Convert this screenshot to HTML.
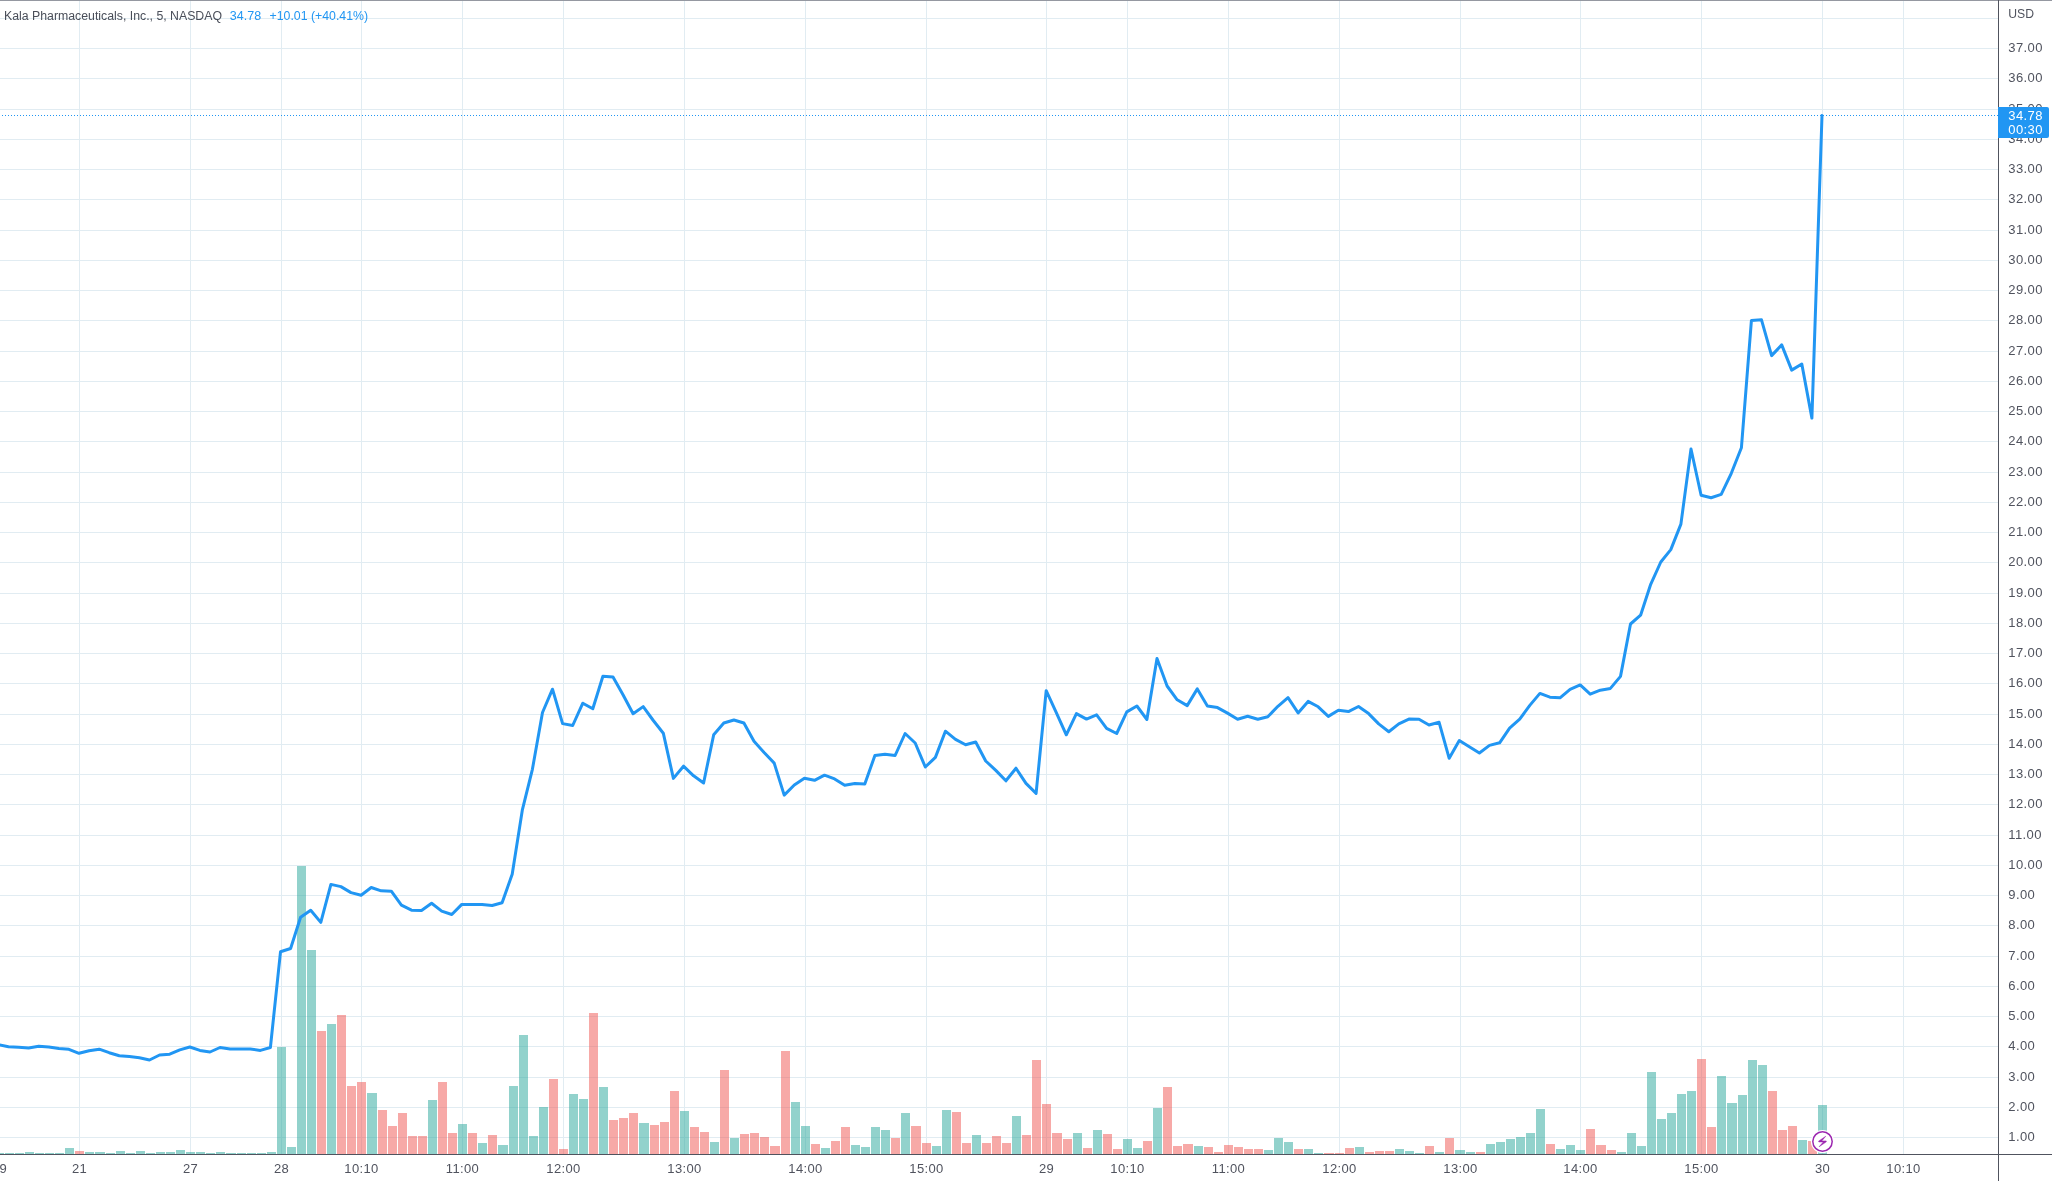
<!DOCTYPE html>
<html><head><meta charset="utf-8"><title>Chart</title>
<style>
html,body{margin:0;padding:0;background:#fff;width:2052px;height:1181px;overflow:hidden}
svg{display:block;font-family:"Liberation Sans", sans-serif;will-change:transform}
</style></head><body>
<svg width="2052" height="1181" viewBox="0 0 2052 1181">
<rect x="0" y="0" width="2052" height="1181" fill="#ffffff"/>
<g shape-rendering="crispEdges"><rect x="0" y="1137" width="1998" height="1" fill="#e1ecf2"/><rect x="0" y="1107" width="1998" height="1" fill="#e1ecf2"/><rect x="0" y="1077" width="1998" height="1" fill="#e1ecf2"/><rect x="0" y="1046" width="1998" height="1" fill="#e1ecf2"/><rect x="0" y="1016" width="1998" height="1" fill="#e1ecf2"/><rect x="0" y="986" width="1998" height="1" fill="#e1ecf2"/><rect x="0" y="956" width="1998" height="1" fill="#e1ecf2"/><rect x="0" y="925" width="1998" height="1" fill="#e1ecf2"/><rect x="0" y="895" width="1998" height="1" fill="#e1ecf2"/><rect x="0" y="865" width="1998" height="1" fill="#e1ecf2"/><rect x="0" y="835" width="1998" height="1" fill="#e1ecf2"/><rect x="0" y="804" width="1998" height="1" fill="#e1ecf2"/><rect x="0" y="774" width="1998" height="1" fill="#e1ecf2"/><rect x="0" y="744" width="1998" height="1" fill="#e1ecf2"/><rect x="0" y="714" width="1998" height="1" fill="#e1ecf2"/><rect x="0" y="683" width="1998" height="1" fill="#e1ecf2"/><rect x="0" y="653" width="1998" height="1" fill="#e1ecf2"/><rect x="0" y="623" width="1998" height="1" fill="#e1ecf2"/><rect x="0" y="593" width="1998" height="1" fill="#e1ecf2"/><rect x="0" y="562" width="1998" height="1" fill="#e1ecf2"/><rect x="0" y="532" width="1998" height="1" fill="#e1ecf2"/><rect x="0" y="502" width="1998" height="1" fill="#e1ecf2"/><rect x="0" y="472" width="1998" height="1" fill="#e1ecf2"/><rect x="0" y="441" width="1998" height="1" fill="#e1ecf2"/><rect x="0" y="411" width="1998" height="1" fill="#e1ecf2"/><rect x="0" y="381" width="1998" height="1" fill="#e1ecf2"/><rect x="0" y="351" width="1998" height="1" fill="#e1ecf2"/><rect x="0" y="320" width="1998" height="1" fill="#e1ecf2"/><rect x="0" y="290" width="1998" height="1" fill="#e1ecf2"/><rect x="0" y="260" width="1998" height="1" fill="#e1ecf2"/><rect x="0" y="230" width="1998" height="1" fill="#e1ecf2"/><rect x="0" y="199" width="1998" height="1" fill="#e1ecf2"/><rect x="0" y="169" width="1998" height="1" fill="#e1ecf2"/><rect x="0" y="139" width="1998" height="1" fill="#e1ecf2"/><rect x="0" y="109" width="1998" height="1" fill="#e1ecf2"/><rect x="0" y="78" width="1998" height="1" fill="#e1ecf2"/><rect x="0" y="48" width="1998" height="1" fill="#e1ecf2"/><rect x="0" y="18" width="1998" height="1" fill="#e1ecf2"/><rect x="79" y="1" width="1" height="1153" fill="#e1ecf2"/><rect x="190" y="1" width="1" height="1153" fill="#e1ecf2"/><rect x="281" y="1" width="1" height="1153" fill="#e1ecf2"/><rect x="361" y="1" width="1" height="1153" fill="#e1ecf2"/><rect x="462" y="1" width="1" height="1153" fill="#e1ecf2"/><rect x="563" y="1" width="1" height="1153" fill="#e1ecf2"/><rect x="684" y="1" width="1" height="1153" fill="#e1ecf2"/><rect x="805" y="1" width="1" height="1153" fill="#e1ecf2"/><rect x="926" y="1" width="1" height="1153" fill="#e1ecf2"/><rect x="1046" y="1" width="1" height="1153" fill="#e1ecf2"/><rect x="1127" y="1" width="1" height="1153" fill="#e1ecf2"/><rect x="1228" y="1" width="1" height="1153" fill="#e1ecf2"/><rect x="1339" y="1" width="1" height="1153" fill="#e1ecf2"/><rect x="1460" y="1" width="1" height="1153" fill="#e1ecf2"/><rect x="1580" y="1" width="1" height="1153" fill="#e1ecf2"/><rect x="1701" y="1" width="1" height="1153" fill="#e1ecf2"/><rect x="1822" y="1" width="1" height="1153" fill="#e1ecf2"/><rect x="1903" y="1" width="1" height="1153" fill="#e1ecf2"/></g>
<g shape-rendering="crispEdges"><rect x="-5" y="1153" width="9" height="1" fill="rgba(38,166,154,0.5)"/><rect x="5" y="1153" width="9" height="1" fill="rgba(38,166,154,0.5)"/><rect x="15" y="1153" width="9" height="1" fill="rgba(38,166,154,0.5)"/><rect x="25" y="1152" width="9" height="2" fill="rgba(38,166,154,0.5)"/><rect x="35" y="1153" width="9" height="1" fill="rgba(38,166,154,0.5)"/><rect x="45" y="1153" width="9" height="1" fill="rgba(38,166,154,0.5)"/><rect x="55" y="1153" width="9" height="1" fill="rgba(38,166,154,0.5)"/><rect x="65" y="1148" width="9" height="6" fill="rgba(38,166,154,0.5)"/><rect x="75" y="1151" width="9" height="3" fill="rgba(239,83,80,0.5)"/><rect x="85" y="1152" width="9" height="2" fill="rgba(38,166,154,0.5)"/><rect x="95" y="1152" width="10" height="2" fill="rgba(38,166,154,0.5)"/><rect x="106" y="1153" width="9" height="1" fill="rgba(38,166,154,0.5)"/><rect x="116" y="1151" width="9" height="3" fill="rgba(38,166,154,0.5)"/><rect x="126" y="1153" width="9" height="1" fill="rgba(38,166,154,0.5)"/><rect x="136" y="1151" width="9" height="3" fill="rgba(38,166,154,0.5)"/><rect x="146" y="1153" width="9" height="1" fill="rgba(38,166,154,0.5)"/><rect x="156" y="1152" width="9" height="2" fill="rgba(38,166,154,0.5)"/><rect x="166" y="1152" width="9" height="2" fill="rgba(38,166,154,0.5)"/><rect x="176" y="1150" width="9" height="4" fill="rgba(38,166,154,0.5)"/><rect x="186" y="1152" width="9" height="2" fill="rgba(38,166,154,0.5)"/><rect x="196" y="1152" width="9" height="2" fill="rgba(38,166,154,0.5)"/><rect x="206" y="1153" width="9" height="1" fill="rgba(38,166,154,0.5)"/><rect x="216" y="1152" width="9" height="2" fill="rgba(38,166,154,0.5)"/><rect x="226" y="1153" width="10" height="1" fill="rgba(38,166,154,0.5)"/><rect x="237" y="1153" width="9" height="1" fill="rgba(38,166,154,0.5)"/><rect x="247" y="1153" width="9" height="1" fill="rgba(38,166,154,0.5)"/><rect x="257" y="1153" width="9" height="1" fill="rgba(38,166,154,0.5)"/><rect x="267" y="1152" width="9" height="2" fill="rgba(38,166,154,0.5)"/><rect x="277" y="1047" width="9" height="107" fill="rgba(38,166,154,0.5)"/><rect x="287" y="1147" width="9" height="7" fill="rgba(38,166,154,0.5)"/><rect x="297" y="866" width="9" height="288" fill="rgba(38,166,154,0.5)"/><rect x="307" y="950" width="9" height="204" fill="rgba(38,166,154,0.5)"/><rect x="317" y="1031" width="9" height="123" fill="rgba(239,83,80,0.5)"/><rect x="327" y="1024" width="9" height="130" fill="rgba(38,166,154,0.5)"/><rect x="337" y="1015" width="9" height="139" fill="rgba(239,83,80,0.5)"/><rect x="347" y="1086" width="9" height="68" fill="rgba(239,83,80,0.5)"/><rect x="357" y="1082" width="9" height="72" fill="rgba(239,83,80,0.5)"/><rect x="367" y="1093" width="10" height="61" fill="rgba(38,166,154,0.5)"/><rect x="378" y="1110" width="9" height="44" fill="rgba(239,83,80,0.5)"/><rect x="388" y="1126" width="9" height="28" fill="rgba(239,83,80,0.5)"/><rect x="398" y="1113" width="9" height="41" fill="rgba(239,83,80,0.5)"/><rect x="408" y="1136" width="9" height="18" fill="rgba(239,83,80,0.5)"/><rect x="418" y="1136" width="9" height="18" fill="rgba(239,83,80,0.5)"/><rect x="428" y="1100" width="9" height="54" fill="rgba(38,166,154,0.5)"/><rect x="438" y="1082" width="9" height="72" fill="rgba(239,83,80,0.5)"/><rect x="448" y="1133" width="9" height="21" fill="rgba(239,83,80,0.5)"/><rect x="458" y="1124" width="9" height="30" fill="rgba(38,166,154,0.5)"/><rect x="468" y="1133" width="9" height="21" fill="rgba(239,83,80,0.5)"/><rect x="478" y="1143" width="9" height="11" fill="rgba(38,166,154,0.5)"/><rect x="488" y="1135" width="9" height="19" fill="rgba(239,83,80,0.5)"/><rect x="498" y="1145" width="10" height="9" fill="rgba(38,166,154,0.5)"/><rect x="509" y="1086" width="9" height="68" fill="rgba(38,166,154,0.5)"/><rect x="519" y="1035" width="9" height="119" fill="rgba(38,166,154,0.5)"/><rect x="529" y="1136" width="9" height="18" fill="rgba(38,166,154,0.5)"/><rect x="539" y="1107" width="9" height="47" fill="rgba(38,166,154,0.5)"/><rect x="549" y="1079" width="9" height="75" fill="rgba(239,83,80,0.5)"/><rect x="559" y="1149" width="9" height="5" fill="rgba(239,83,80,0.5)"/><rect x="569" y="1094" width="9" height="60" fill="rgba(38,166,154,0.5)"/><rect x="579" y="1099" width="9" height="55" fill="rgba(38,166,154,0.5)"/><rect x="589" y="1013" width="9" height="141" fill="rgba(239,83,80,0.5)"/><rect x="599" y="1087" width="9" height="67" fill="rgba(38,166,154,0.5)"/><rect x="609" y="1120" width="9" height="34" fill="rgba(239,83,80,0.5)"/><rect x="619" y="1118" width="9" height="36" fill="rgba(239,83,80,0.5)"/><rect x="629" y="1113" width="9" height="41" fill="rgba(239,83,80,0.5)"/><rect x="639" y="1123" width="10" height="31" fill="rgba(38,166,154,0.5)"/><rect x="650" y="1125" width="9" height="29" fill="rgba(239,83,80,0.5)"/><rect x="660" y="1122" width="9" height="32" fill="rgba(239,83,80,0.5)"/><rect x="670" y="1091" width="9" height="63" fill="rgba(239,83,80,0.5)"/><rect x="680" y="1111" width="9" height="43" fill="rgba(38,166,154,0.5)"/><rect x="690" y="1127" width="9" height="27" fill="rgba(239,83,80,0.5)"/><rect x="700" y="1132" width="9" height="22" fill="rgba(239,83,80,0.5)"/><rect x="710" y="1142" width="9" height="12" fill="rgba(38,166,154,0.5)"/><rect x="720" y="1070" width="9" height="84" fill="rgba(239,83,80,0.5)"/><rect x="730" y="1138" width="9" height="16" fill="rgba(38,166,154,0.5)"/><rect x="740" y="1134" width="9" height="20" fill="rgba(239,83,80,0.5)"/><rect x="750" y="1133" width="9" height="21" fill="rgba(239,83,80,0.5)"/><rect x="760" y="1137" width="9" height="17" fill="rgba(239,83,80,0.5)"/><rect x="770" y="1146" width="10" height="8" fill="rgba(239,83,80,0.5)"/><rect x="781" y="1051" width="9" height="103" fill="rgba(239,83,80,0.5)"/><rect x="791" y="1102" width="9" height="52" fill="rgba(38,166,154,0.5)"/><rect x="801" y="1126" width="9" height="28" fill="rgba(38,166,154,0.5)"/><rect x="811" y="1144" width="9" height="10" fill="rgba(239,83,80,0.5)"/><rect x="821" y="1148" width="9" height="6" fill="rgba(38,166,154,0.5)"/><rect x="831" y="1141" width="9" height="13" fill="rgba(239,83,80,0.5)"/><rect x="841" y="1127" width="9" height="27" fill="rgba(239,83,80,0.5)"/><rect x="851" y="1145" width="9" height="9" fill="rgba(38,166,154,0.5)"/><rect x="861" y="1147" width="9" height="7" fill="rgba(38,166,154,0.5)"/><rect x="871" y="1127" width="9" height="27" fill="rgba(38,166,154,0.5)"/><rect x="881" y="1130" width="9" height="24" fill="rgba(38,166,154,0.5)"/><rect x="891" y="1138" width="9" height="16" fill="rgba(239,83,80,0.5)"/><rect x="901" y="1113" width="9" height="41" fill="rgba(38,166,154,0.5)"/><rect x="911" y="1126" width="10" height="28" fill="rgba(239,83,80,0.5)"/><rect x="922" y="1143" width="9" height="11" fill="rgba(239,83,80,0.5)"/><rect x="932" y="1146" width="9" height="8" fill="rgba(38,166,154,0.5)"/><rect x="942" y="1110" width="9" height="44" fill="rgba(38,166,154,0.5)"/><rect x="952" y="1112" width="9" height="42" fill="rgba(239,83,80,0.5)"/><rect x="962" y="1143" width="9" height="11" fill="rgba(239,83,80,0.5)"/><rect x="972" y="1135" width="9" height="19" fill="rgba(38,166,154,0.5)"/><rect x="982" y="1143" width="9" height="11" fill="rgba(239,83,80,0.5)"/><rect x="992" y="1136" width="9" height="18" fill="rgba(239,83,80,0.5)"/><rect x="1002" y="1143" width="9" height="11" fill="rgba(239,83,80,0.5)"/><rect x="1012" y="1116" width="9" height="38" fill="rgba(38,166,154,0.5)"/><rect x="1022" y="1135" width="9" height="19" fill="rgba(239,83,80,0.5)"/><rect x="1032" y="1060" width="9" height="94" fill="rgba(239,83,80,0.5)"/><rect x="1042" y="1104" width="9" height="50" fill="rgba(239,83,80,0.5)"/><rect x="1052" y="1133" width="10" height="21" fill="rgba(239,83,80,0.5)"/><rect x="1063" y="1139" width="9" height="15" fill="rgba(239,83,80,0.5)"/><rect x="1073" y="1133" width="9" height="21" fill="rgba(38,166,154,0.5)"/><rect x="1083" y="1148" width="9" height="6" fill="rgba(239,83,80,0.5)"/><rect x="1093" y="1130" width="9" height="24" fill="rgba(38,166,154,0.5)"/><rect x="1103" y="1134" width="9" height="20" fill="rgba(239,83,80,0.5)"/><rect x="1113" y="1149" width="9" height="5" fill="rgba(239,83,80,0.5)"/><rect x="1123" y="1139" width="9" height="15" fill="rgba(38,166,154,0.5)"/><rect x="1133" y="1148" width="9" height="6" fill="rgba(38,166,154,0.5)"/><rect x="1143" y="1141" width="9" height="13" fill="rgba(239,83,80,0.5)"/><rect x="1153" y="1108" width="9" height="46" fill="rgba(38,166,154,0.5)"/><rect x="1163" y="1087" width="9" height="67" fill="rgba(239,83,80,0.5)"/><rect x="1173" y="1146" width="9" height="8" fill="rgba(239,83,80,0.5)"/><rect x="1183" y="1144" width="10" height="10" fill="rgba(239,83,80,0.5)"/><rect x="1194" y="1146" width="9" height="8" fill="rgba(38,166,154,0.5)"/><rect x="1204" y="1147" width="9" height="7" fill="rgba(239,83,80,0.5)"/><rect x="1214" y="1152" width="9" height="2" fill="rgba(239,83,80,0.5)"/><rect x="1224" y="1145" width="9" height="9" fill="rgba(239,83,80,0.5)"/><rect x="1234" y="1147" width="9" height="7" fill="rgba(239,83,80,0.5)"/><rect x="1244" y="1149" width="9" height="5" fill="rgba(239,83,80,0.5)"/><rect x="1254" y="1149" width="9" height="5" fill="rgba(239,83,80,0.5)"/><rect x="1264" y="1150" width="9" height="4" fill="rgba(38,166,154,0.5)"/><rect x="1274" y="1138" width="9" height="16" fill="rgba(38,166,154,0.5)"/><rect x="1284" y="1142" width="9" height="12" fill="rgba(38,166,154,0.5)"/><rect x="1294" y="1149" width="9" height="5" fill="rgba(239,83,80,0.5)"/><rect x="1304" y="1149" width="9" height="5" fill="rgba(38,166,154,0.5)"/><rect x="1314" y="1153" width="9" height="1" fill="rgba(38,166,154,0.5)"/><rect x="1324" y="1153" width="10" height="1" fill="rgba(239,83,80,0.5)"/><rect x="1335" y="1153" width="9" height="1" fill="rgba(239,83,80,0.5)"/><rect x="1345" y="1148" width="9" height="6" fill="rgba(239,83,80,0.5)"/><rect x="1355" y="1147" width="9" height="7" fill="rgba(38,166,154,0.5)"/><rect x="1365" y="1152" width="9" height="2" fill="rgba(239,83,80,0.5)"/><rect x="1375" y="1151" width="9" height="3" fill="rgba(239,83,80,0.5)"/><rect x="1385" y="1151" width="9" height="3" fill="rgba(239,83,80,0.5)"/><rect x="1395" y="1149" width="9" height="5" fill="rgba(38,166,154,0.5)"/><rect x="1405" y="1151" width="9" height="3" fill="rgba(38,166,154,0.5)"/><rect x="1415" y="1153" width="9" height="1" fill="rgba(38,166,154,0.5)"/><rect x="1425" y="1146" width="9" height="8" fill="rgba(239,83,80,0.5)"/><rect x="1435" y="1152" width="9" height="2" fill="rgba(38,166,154,0.5)"/><rect x="1445" y="1138" width="9" height="16" fill="rgba(239,83,80,0.5)"/><rect x="1455" y="1150" width="10" height="4" fill="rgba(38,166,154,0.5)"/><rect x="1466" y="1152" width="9" height="2" fill="rgba(38,166,154,0.5)"/><rect x="1476" y="1152" width="9" height="2" fill="rgba(239,83,80,0.5)"/><rect x="1486" y="1144" width="9" height="10" fill="rgba(38,166,154,0.5)"/><rect x="1496" y="1142" width="9" height="12" fill="rgba(38,166,154,0.5)"/><rect x="1506" y="1139" width="9" height="15" fill="rgba(38,166,154,0.5)"/><rect x="1516" y="1137" width="9" height="17" fill="rgba(38,166,154,0.5)"/><rect x="1526" y="1133" width="9" height="21" fill="rgba(38,166,154,0.5)"/><rect x="1536" y="1109" width="9" height="45" fill="rgba(38,166,154,0.5)"/><rect x="1546" y="1144" width="9" height="10" fill="rgba(239,83,80,0.5)"/><rect x="1556" y="1149" width="9" height="5" fill="rgba(38,166,154,0.5)"/><rect x="1566" y="1145" width="9" height="9" fill="rgba(38,166,154,0.5)"/><rect x="1576" y="1150" width="9" height="4" fill="rgba(38,166,154,0.5)"/><rect x="1586" y="1129" width="9" height="25" fill="rgba(239,83,80,0.5)"/><rect x="1596" y="1145" width="10" height="9" fill="rgba(239,83,80,0.5)"/><rect x="1607" y="1150" width="9" height="4" fill="rgba(239,83,80,0.5)"/><rect x="1617" y="1152" width="9" height="2" fill="rgba(38,166,154,0.5)"/><rect x="1627" y="1133" width="9" height="21" fill="rgba(38,166,154,0.5)"/><rect x="1637" y="1146" width="9" height="8" fill="rgba(38,166,154,0.5)"/><rect x="1647" y="1072" width="9" height="82" fill="rgba(38,166,154,0.5)"/><rect x="1657" y="1119" width="9" height="35" fill="rgba(38,166,154,0.5)"/><rect x="1667" y="1113" width="9" height="41" fill="rgba(38,166,154,0.5)"/><rect x="1677" y="1094" width="9" height="60" fill="rgba(38,166,154,0.5)"/><rect x="1687" y="1091" width="9" height="63" fill="rgba(38,166,154,0.5)"/><rect x="1697" y="1059" width="9" height="95" fill="rgba(239,83,80,0.5)"/><rect x="1707" y="1127" width="9" height="27" fill="rgba(239,83,80,0.5)"/><rect x="1717" y="1076" width="9" height="78" fill="rgba(38,166,154,0.5)"/><rect x="1727" y="1103" width="10" height="51" fill="rgba(38,166,154,0.5)"/><rect x="1738" y="1095" width="9" height="59" fill="rgba(38,166,154,0.5)"/><rect x="1748" y="1060" width="9" height="94" fill="rgba(38,166,154,0.5)"/><rect x="1758" y="1065" width="9" height="89" fill="rgba(38,166,154,0.5)"/><rect x="1768" y="1091" width="9" height="63" fill="rgba(239,83,80,0.5)"/><rect x="1778" y="1130" width="9" height="24" fill="rgba(239,83,80,0.5)"/><rect x="1788" y="1126" width="9" height="28" fill="rgba(239,83,80,0.5)"/><rect x="1798" y="1140" width="9" height="14" fill="rgba(38,166,154,0.5)"/><rect x="1808" y="1141" width="9" height="13" fill="rgba(239,83,80,0.5)"/><rect x="1818" y="1105" width="9" height="49" fill="rgba(38,166,154,0.5)"/></g>
<polyline points="-1.6,1044.7 8.5,1046.8 18.6,1047.3 28.6,1048.0 38.7,1046.3 48.8,1046.9 58.9,1048.5 68.9,1049.3 79.0,1053.3 89.1,1050.7 99.2,1049.2 109.2,1052.7 119.3,1055.8 129.4,1056.6 139.4,1057.7 149.5,1060.0 159.6,1055.0 169.7,1054.2 179.8,1049.9 189.8,1047.0 199.9,1050.4 210.0,1052.0 220.0,1047.5 230.1,1049.1 240.2,1049.1 250.3,1049.1 260.4,1050.4 270.4,1047.5 280.5,951.8 290.6,948.5 300.6,917.3 310.7,910.3 320.8,922.4 330.9,884.4 340.9,886.6 351.0,892.6 361.1,895.2 371.2,887.5 381.2,890.8 391.3,891.2 401.4,905.2 411.5,910.2 421.5,910.4 431.6,903.3 441.7,911.1 451.8,914.5 461.8,904.4 471.9,904.4 482.0,904.4 492.1,905.5 502.1,902.7 512.2,874.2 522.3,810.2 532.4,769.3 542.5,712.5 552.5,689.2 562.6,723.6 572.7,725.5 582.8,703.2 592.8,708.8 602.9,676.2 613.0,677.1 623.0,694.8 633.1,713.8 643.2,706.6 653.3,720.5 663.3,733.2 673.4,778.4 683.5,766.2 693.6,775.8 703.6,783.0 713.7,734.7 723.8,723.0 733.9,720.0 743.9,723.0 754.0,741.3 764.1,752.5 774.2,763.1 784.2,795.1 794.3,785.0 804.4,778.3 814.5,780.3 824.5,775.2 834.6,778.9 844.7,785.3 854.8,783.6 864.8,784.0 874.9,755.5 885.0,754.2 895.1,755.5 905.1,733.5 915.2,743.0 925.3,767.0 935.4,757.4 945.4,731.2 955.5,739.4 965.6,744.8 975.7,742.0 985.7,761.0 995.8,770.4 1005.9,780.8 1016.0,768.2 1026.0,783.4 1036.1,793.4 1046.2,690.7 1056.3,712.7 1066.3,734.8 1076.4,713.6 1086.5,719.1 1096.6,714.9 1106.6,728.4 1116.7,733.5 1126.8,711.9 1136.9,706.0 1146.9,719.5 1157.0,658.5 1167.1,686.0 1177.2,699.8 1187.2,705.6 1197.3,688.9 1207.4,705.9 1217.5,707.6 1227.5,713.1 1237.6,719.2 1247.7,716.2 1257.8,719.2 1267.8,716.8 1277.9,706.3 1288.0,697.7 1298.1,712.9 1308.1,701.4 1318.2,706.8 1328.3,716.4 1338.4,710.2 1348.4,711.6 1358.5,706.5 1368.6,713.6 1378.7,723.9 1388.8,731.7 1398.8,723.9 1408.9,719.1 1419.0,719.3 1429.0,725.0 1439.1,722.3 1449.2,758.3 1459.3,740.6 1469.3,746.8 1479.4,753.0 1489.5,745.4 1499.6,742.8 1509.6,728.1 1519.7,719.2 1529.8,705.4 1539.9,693.4 1549.9,697.2 1560.0,697.8 1570.1,689.3 1580.2,684.9 1590.2,694.2 1600.3,690.2 1610.4,688.4 1620.5,676.4 1630.5,624.0 1640.6,615.2 1650.7,584.3 1660.8,562.0 1670.8,549.6 1680.9,524.1 1691.0,449.0 1701.1,495.2 1711.1,497.7 1721.2,494.4 1731.3,473.3 1741.4,447.8 1751.4,320.6 1761.5,319.8 1771.6,355.6 1781.7,344.9 1791.7,370.1 1801.8,364.0 1811.9,418.1 1822.0,115.5" fill="none" stroke="#2196f3" stroke-width="3" stroke-linejoin="round" stroke-linecap="round"/>
<line x1="0" y1="115.5" x2="1998" y2="115.5" stroke="#2196f3" stroke-width="1" stroke-dasharray="1 2" stroke-dashoffset="1" shape-rendering="crispEdges"/>
<rect x="0" y="0" width="2052" height="1" fill="#9598a1"/>
<rect x="1998" y="0" width="1" height="1181" fill="#50535e"/>
<rect x="0" y="1154" width="2052" height="1" fill="#50535e"/>
<g fill="#50535e" font-size="13" letter-spacing="0.4"><text x="2008.3" y="1141.0">1.00</text><text x="2008.3" y="1110.8">2.00</text><text x="2008.3" y="1080.5">3.00</text><text x="2008.3" y="1050.2">4.00</text><text x="2008.3" y="1020.0">5.00</text><text x="2008.3" y="989.8">6.00</text><text x="2008.3" y="959.5">7.00</text><text x="2008.3" y="929.2">8.00</text><text x="2008.3" y="899.0">9.00</text><text x="2008.3" y="868.8">10.00</text><text x="2008.3" y="838.5">11.00</text><text x="2008.3" y="808.2">12.00</text><text x="2008.3" y="778.0">13.00</text><text x="2008.3" y="747.8">14.00</text><text x="2008.3" y="717.5">15.00</text><text x="2008.3" y="687.2">16.00</text><text x="2008.3" y="657.0">17.00</text><text x="2008.3" y="626.8">18.00</text><text x="2008.3" y="596.5">19.00</text><text x="2008.3" y="566.2">20.00</text><text x="2008.3" y="536.0">21.00</text><text x="2008.3" y="505.8">22.00</text><text x="2008.3" y="475.5">23.00</text><text x="2008.3" y="445.2">24.00</text><text x="2008.3" y="415.0">25.00</text><text x="2008.3" y="384.8">26.00</text><text x="2008.3" y="354.5">27.00</text><text x="2008.3" y="324.2">28.00</text><text x="2008.3" y="294.0">29.00</text><text x="2008.3" y="263.8">30.00</text><text x="2008.3" y="233.5">31.00</text><text x="2008.3" y="203.2">32.00</text><text x="2008.3" y="173.0">33.00</text><text x="2008.3" y="142.8">34.00</text><text x="2008.3" y="112.5">35.00</text><text x="2008.3" y="82.2">36.00</text><text x="2008.3" y="52.0">37.00</text><text x="2008.3" y="17.9" font-size="12.2" letter-spacing="0">USD</text></g>
<path d="M1998 107 H2047 Q2049 107 2049 109 V136 Q2049 138 2047 138 H1998 Z" fill="#2196f3"/>
<g fill="#ffffff" font-size="13" letter-spacing="0.4"><text x="2008.3" y="120.2">34.78</text><text x="2008.3" y="134.1">00:30</text></g>
<g fill="#50535e" font-size="13" letter-spacing="0.35" text-anchor="middle"><text x="-0.6" y="1172.9">19</text><text x="79.5" y="1172.9">21</text><text x="190.5" y="1172.9">27</text><text x="281.5" y="1172.9">28</text><text x="361.5" y="1172.9">10:10</text><text x="462.5" y="1172.9">11:00</text><text x="563.5" y="1172.9">12:00</text><text x="684.5" y="1172.9">13:00</text><text x="805.5" y="1172.9">14:00</text><text x="926.5" y="1172.9">15:00</text><text x="1046.5" y="1172.9">29</text><text x="1127.5" y="1172.9">10:10</text><text x="1228.5" y="1172.9">11:00</text><text x="1339.5" y="1172.9">12:00</text><text x="1460.5" y="1172.9">13:00</text><text x="1580.5" y="1172.9">14:00</text><text x="1701.5" y="1172.9">15:00</text><text x="1822.5" y="1172.9">30</text><text x="1903.5" y="1172.9">10:10</text></g>
<text x="4" y="19.7" font-size="12.3" fill="#4a4e59">Kala Pharmaceuticals, Inc., 5, NASDAQ</text>
<text x="229.8" y="19.7" font-size="12.5" fill="#2196f3">34.78</text>
<text x="269.6" y="19.7" font-size="12.3" fill="#2196f3">+10.01 (+40.41%)</text>
<circle cx="1822.5" cy="1141.5" r="11.6" fill="#ffffff"/>
<circle cx="1822.5" cy="1141.5" r="9.7" fill="#ffffff" stroke="#9c27b0" stroke-width="1.5"/>
<polygon points="1825.7,1136.3 1818.5,1141.15 1818.9,1141.95 1823.3,1141.95 1819.1,1146.8 1826.35,1141.8 1826.2,1140.9 1821.75,1140.9" fill="#9c27b0" stroke="#9c27b0" stroke-width="0.5" stroke-linejoin="round"/>
</svg>
</body></html>
